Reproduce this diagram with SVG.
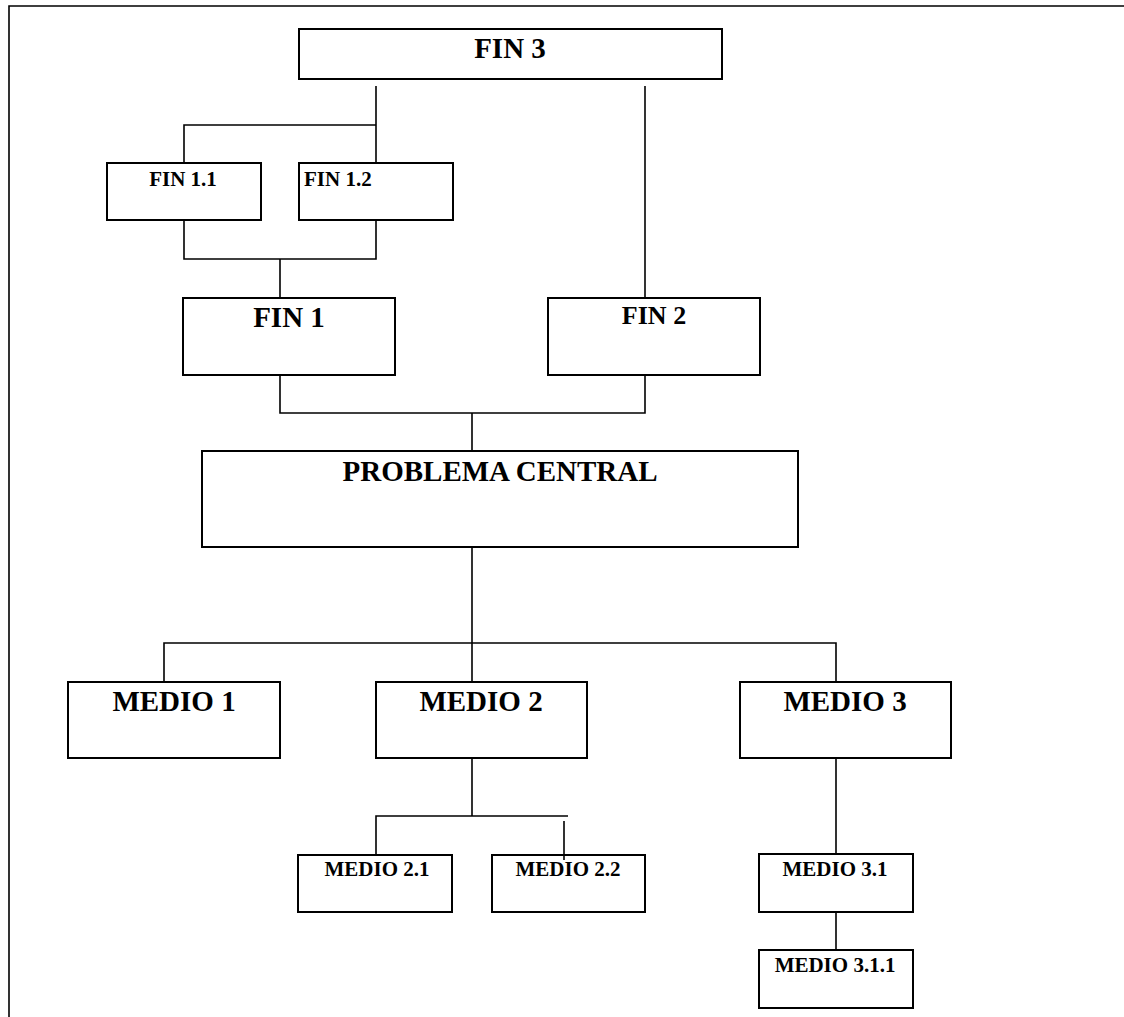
<svg xmlns="http://www.w3.org/2000/svg" width="1124" height="1017" viewBox="0 0 1124 1017">
<style>
.box{fill:#fff;stroke:#000;stroke-width:2}
.ln{fill:none;stroke:#000;stroke-width:1.6}
text{font-family:"Liberation Serif","Times New Roman",serif;font-weight:bold;fill:#000}
.big{font-size:29px;text-anchor:middle}
.mid{font-size:26px;text-anchor:middle}
.sm{font-size:21px;text-anchor:middle}
.sml{font-size:21px;text-anchor:start}
</style>
<rect width="1124" height="1017" fill="#fff"/>
<path class="ln" d="M9 1017 V6 H1124" stroke-width="2"/>
<g id="connectors">
<path class="ln" d="M376 86 V125 H184 V163 M376 125 V163"/>
<path class="ln" d="M645 86 V298"/>
<path class="ln" d="M184 220 V259 H376 V220 M280 259 V298"/>
<path class="ln" d="M280 375 V413 H645 V375 M472 413 V451"/>
<path class="ln" d="M472 547 V682 M164 682 V643 H836 V682"/>
<path class="ln" d="M472 758 V816 M376 855 V816 H568 M564 821 V860"/>
<path class="ln" d="M836 758 V854 M836 912 V950"/>
</g>
<g id="fin3"><rect class="box" x="299" y="29" width="423" height="50"/><text class="big" x="510" y="58">FIN 3</text></g>
<g id="fin11"><rect class="box" x="107" y="163" width="154" height="57"/><text class="sm" x="183" y="186">FIN 1.1</text></g>
<g id="fin12"><rect class="box" x="299" y="163" width="154" height="57"/><text class="sml" x="304" y="186">FIN 1.2</text></g>
<g id="fin1"><rect class="box" x="183" y="298" width="212" height="77"/><text class="big" x="289" y="327">FIN 1</text></g>
<g id="fin2"><rect class="box" x="548" y="298" width="212" height="77"/><text class="mid" x="654" y="324">FIN 2</text></g>
<g id="problema"><rect class="box" x="202" y="451" width="596" height="96"/><text class="big" x="500" y="481">PROBLEMA CENTRAL</text></g>
<g id="medio1"><rect class="box" x="68" y="682" width="212" height="76"/><text class="big" x="174" y="711">MEDIO 1</text></g>
<g id="medio2"><rect class="box" x="376" y="682" width="211" height="76"/><text class="big" x="481" y="711">MEDIO 2</text></g>
<g id="medio3"><rect class="box" x="740" y="682" width="211" height="76"/><text class="big" x="845" y="711">MEDIO 3</text></g>
<g id="medio21"><rect class="box" x="298" y="855" width="154" height="57"/><text class="sm" x="377" y="876">MEDIO 2.1</text></g>
<g id="medio22"><rect class="box" x="492" y="855" width="153" height="57"/><text class="sm" x="568" y="876">MEDIO 2.2</text></g>
<path class="ln" d="M564 855 V860"/>
<g id="medio31"><rect class="box" x="759" y="854" width="154" height="58"/><text class="sm" x="835" y="876">MEDIO 3.1</text></g>
<g id="medio311"><rect class="box" x="759" y="950" width="154" height="58"/><text class="sm" x="835" y="972">MEDIO 3.1.1</text></g>
</svg>
